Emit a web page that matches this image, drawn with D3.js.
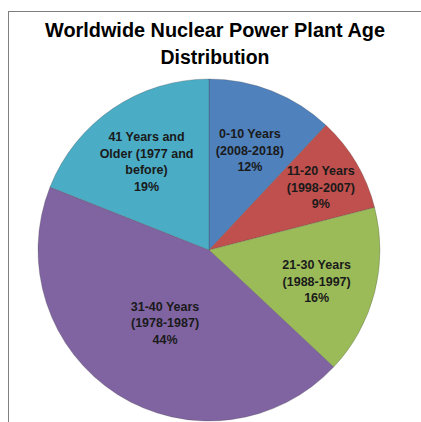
<!DOCTYPE html>
<html>
<head>
<meta charset="utf-8">
<script src="https://cdn.jsdelivr.net/npm/d3@7"></script>
<style>
  body { margin: 0; background: #fff; }
  svg { display: block; font-family: Arial, "Liberation Sans", sans-serif; }
</style>
</head>
<body>
<div id="chart"></div>
<script>
  const titleLines = ["Worldwide Nuclear Power Plant Age", "Distribution"];
  const categories = [
    ["0-10 Years", "(2008-2018)"],
    ["11-20 Years", "(1998-2007)"],
    ["21-30 Years", "(1988-1997)"],
    ["31-40 Years", "(1978-1987)"],
    ["41 Years and", "Older (1977 and", "before)"]
  ];
  const shares = [12, 9, 16, 44, 19];
  const colors = ["#4f81bd", "#c0504d", "#9bbb59", "#8064a2", "#4bacc6"];

  const width = 421, height = 422;
  const cx = 209, cy = 250, radius = 171;

  const svg = d3
    .select("#chart")
    .append("svg")
    .attr("width", width)
    .attr("height", height);

  // chart frame
  svg
    .append("rect")
    .attr("x", 8.5)
    .attr("y", 11.5)
    .attr("width", 430)
    .attr("height", 430)
    .attr("fill", "none")
    .attr("stroke", "#7f7f7f")
    .attr("stroke-width", 1);

  svg
    .append("text")
    .attr("x", 215)
    .attr("y", 37)
    .attr("text-anchor", "middle")
    .attr("font-size", 20)
    .attr("font-weight", "bold")
    .attr("textLength", 340)
    .attr("lengthAdjust", "spacingAndGlyphs")
    .text(titleLines[0]);

  svg
    .append("text")
    .attr("x", 215)
    .attr("y", 64)
    .attr("text-anchor", "middle")
    .attr("font-size", 20)
    .attr("font-weight", "bold")
    .attr("textLength", 109)
    .attr("lengthAdjust", "spacingAndGlyphs")
    .text(titleLines[1]);

  const data = shares.map((v, i) => ({
    lines: categories[i],
    value: v,
    color: colors[i]
  }));

  const pie = d3.pie().sort(null).value((d) => d.value);
  const arc = d3.arc().innerRadius(0).outerRadius(radius);
  const arcs = pie(data);

  const g = svg.append("g").attr("transform", `translate(${cx},${cy})`);

  g.selectAll("path")
    .data(arcs)
    .enter()
    .append("path")
    .attr("d", arc)
    .attr("fill", (d) => d.data.color)
    .attr("stroke", "rgba(70,70,70,0.35)")
    .attr("stroke-width", 0.8);

  // best-fit style label radius: small slices push out, big slice pulls in
  const labelRadius = (v) =>
    v < 10 ? radius * 0.76 : v > 30 ? radius * 0.48 : radius * 0.65;

  const lineH = 16.5;
  arcs.forEach((d) => {
    const mid = (d.startAngle + d.endAngle) / 2;
    const lr = labelRadius(d.data.value);
    const x = Math.sin(mid) * lr;
    const y = -Math.cos(mid) * lr;
    const lines = d.data.lines.concat([d.data.value + "%"]);
    const t = g
      .append("text")
      .attr("text-anchor", "middle")
      .attr("font-size", 12.5)
      .attr("font-weight", "bold")
      .attr("fill", "#1a1a1a");
    const top = y - ((lines.length - 1) * lineH) / 2 + 8;
    lines.forEach((s, i) => {
      t.append("tspan")
        .attr("x", x)
        .attr("y", top + i * lineH)
        .text(s);
    });
  });
</script>
</body>
</html>
